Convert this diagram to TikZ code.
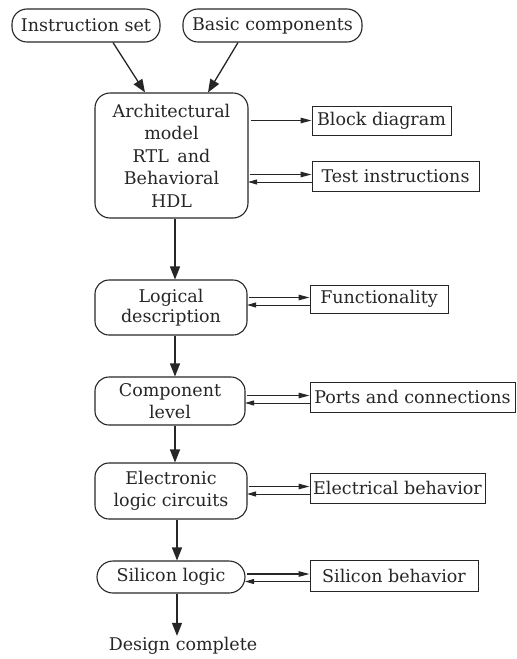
\documentclass[tikz,border=0pt]{standalone}
\usepackage{fontspec}
\setmainfont{DejaVu Serif}
\usetikzlibrary{arrows.meta,calc}
\definecolor{ink}{HTML}{262626}
\begin{document}
\begin{tikzpicture}[x=1pt,y=1pt,
  every node/.style={font=\fontsize{17.5}{22.5}\selectfont, text=ink},
  pill/.style={draw=ink, line width=1.1pt, rounded corners=15pt, inner sep=0pt, align=center},
  stage/.style={draw=ink, line width=1.1pt, rounded corners=14pt, inner sep=0pt, align=center},
  result/.style={draw=ink, line width=1pt, inner sep=0pt},
  flow/.style={draw=ink, line width=1.3pt, -{Triangle[length=13pt,width=10pt]}},
  fwd/.style={draw=ink, line width=1.1pt, -{Triangle[length=11pt,width=5.5pt]}},
  back/.style={draw=ink, line width=1pt, -{Triangle[length=9pt,width=5pt]}}
]
\useasboundingbox (0,0) rectangle (517,-659);

% inputs
\node[pill, minimum width=148pt, minimum height=33pt] (inst) at (86,-25.5) {Instruction set};
\node[pill, minimum width=179pt, minimum height=33pt] (basic) at (272.5,-25.5) {Basic components};

% design stages
\node[stage, minimum width=153pt, minimum height=125pt, rounded corners=15pt] (arch) at (171.5,-155.5)
  {Architectural\\model\\RTL\, and\\Behavioral\\HDL};
\node[stage, minimum width=152pt, minimum height=55pt] (logic) at (171,-307.5) {Logical\\[-3pt]description};
\node[stage, minimum width=150pt, minimum height=48pt] (comp) at (170,-401) {Component\\level};
\node[stage, minimum width=152pt, minimum height=56pt] (elec) at (171,-491) {Electronic\\logic circuits};
\node[pill, minimum width=148pt, minimum height=32pt, rounded corners=16pt] (sil) at (171,-577) {Silicon logic};
\node (done) at (183,-646) {Design complete};

% results of each stage
\node[result, minimum width=139pt, minimum height=29pt] (block) at (381.5,-120.5) {Block diagram};
\node[result, minimum width=167pt, minimum height=30pt] (test) at (395.5,-176) {Test instructions};
\node[result, minimum width=138pt, minimum height=28pt] (func) at (379,-299) {Functionality};
\node[result, minimum width=205pt, minimum height=30pt] (ports) at (412.5,-397) {Ports and connections};
\node[result, minimum width=175pt, minimum height=30pt] (elb) at (397.5,-488) {Electrical behavior};
\node[result, minimum width=168pt, minimum height=31pt] (silb) at (394,-575.5) {Silicon behavior};

% inputs into the architectural model
\draw[flow] ([xshift=27pt]inst.south) -- ([xshift=-26.5pt]arch.north);
\draw[flow] ([xshift=-34.5pt]basic.south) -- ([xshift=36.5pt]arch.north);

% main design flow
\draw[flow] ([xshift=3.5pt]arch.south) -- ([xshift=3.5pt]arch.south |- logic.north);
\draw[flow] ([xshift=4pt]logic.south) -- ([xshift=4pt]logic.south |- comp.north);
\draw[flow] ([xshift=5pt]comp.south) -- ([xshift=5pt]comp.south |- elec.north);
\draw[flow] ([xshift=6pt]elec.south) -- ([xshift=6pt]elec.south |- sil.north);
\draw[flow] ([xshift=6pt]sil.south) -- ([xshift=6pt,yshift=-2pt]sil.south |- done.north);

% outputs and feedback
\draw[fwd] ([xshift=2pt]arch.east |- block.west) -- (block.west);
\foreach \s/\r in {arch/test, logic/func, comp/ports, elec/elb, sil/silb}{
  \coordinate (\r-out) at ([yshift=1.5pt]\r.west);
  \coordinate (\r-in) at ([yshift=-6pt]\r.west);
  \draw[fwd] ([xshift=1pt]\s.east |- \r-out) -- (\r-out);
  \draw[back] (\r-in) -- ([xshift=-0.5pt]\s.east |- \r-in);
}
\end{tikzpicture}
\end{document}
